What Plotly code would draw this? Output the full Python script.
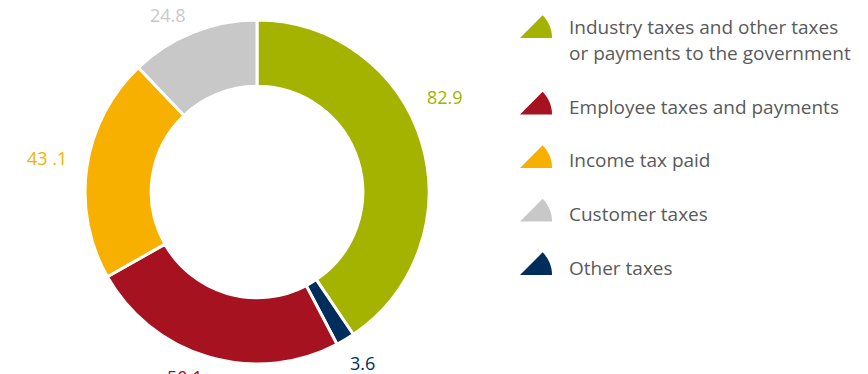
import math
import plotly.graph_objects as go

W, H = 868, 374

# Slice data, clockwise from 12 o'clock
slice_names = ["Industry taxes and other taxes or payments to the government",
               "Other taxes", "Employee taxes and payments",
               "Income tax paid", "Customer taxes"]
slice_values = [82.9, 3.6, 50.1, 43.1, 24.8]
slice_labels = ["82.9", "3.6", "50.1", "43 .1", "24.8"]
slice_colors = ["#a3b300", "#002d5c", "#a6121f", "#f8b000", "#c8c8c8"]

# Legend entries (top to bottom)
legend_lines = [["Industry taxes and other taxes", "or payments to the government"],
                ["Employee taxes and payments"],
                ["Income tax paid"],
                ["Customer taxes"],
                ["Other taxes"]]
legend_colors = ["#a3b300", "#a6121f", "#f8b000", "#c8c8c8", "#002d5c"]

FONT = "Open Sans"
TEXT_GREY = "#5a5a5a"

# Donut geometry in pixels
cx, cy, R = 257, 192, 172


def px(x):
    return x / W


def py(y):
    return 1 - y / H


fig = go.Figure()
fig.add_trace(go.Pie(
    values=slice_values,
    labels=slice_names,
    marker=dict(colors=slice_colors, line=dict(color="white", width=3)),
    hole=0.615,
    sort=False,
    direction="clockwise",
    rotation=0,
    textinfo="none",
    hoverinfo="label+value",
    showlegend=False,
    domain=dict(x=[px(cx - R), px(cx + R)], y=[py(cy + R), py(cy - R)]),
))

annotations = []
# Value labels around the ring
label_pos = [(445, 97), (362, 363), (185, 377), (47, 158), (168, 15)]
for text, color, (x, y) in zip(slice_labels, slice_colors, label_pos):
    annotations.append(dict(x=px(x), y=py(y), xref="paper", yref="paper",
                            text=text, showarrow=False,
                            font=dict(family=FONT, size=18, color=color),
                            xanchor="center", yanchor="middle"))

# Legend: wedge icons and text
shapes = []
icon_bottoms = [38, 114.5, 168, 221.5, 275]
text_centers = [[27, 53], [107], [160], [214], [268]]
for lines, color, yb, ycs in zip(legend_lines, legend_colors, icon_bottoms, text_centers):
    x0, r = 520, 32
    pts = [(x0, yb)]
    for i in range(0, 46, 3):
        a = math.radians(i)
        pts.append((x0 + r * math.cos(a), yb - r * math.sin(a)))
    path = "M " + " L ".join(f"{px(a):.5f},{py(b):.5f}" for a, b in pts) + " Z"
    shapes.append(dict(type="path", path=path, xref="paper", yref="paper",
                       fillcolor=color, line=dict(width=0)))
    for line, yc in zip(lines, ycs):
        annotations.append(dict(x=px(567), y=py(yc), xref="paper", yref="paper",
                                text=line, showarrow=False,
                                font=dict(family=FONT, size=19, color=TEXT_GREY),
                                xanchor="left", yanchor="middle"))

fig.update_layout(
    width=W, height=H,
    margin=dict(l=0, r=0, t=0, b=0),
    paper_bgcolor="white", plot_bgcolor="white",
    annotations=annotations, shapes=shapes,
)

fig.write_html("out.html")
